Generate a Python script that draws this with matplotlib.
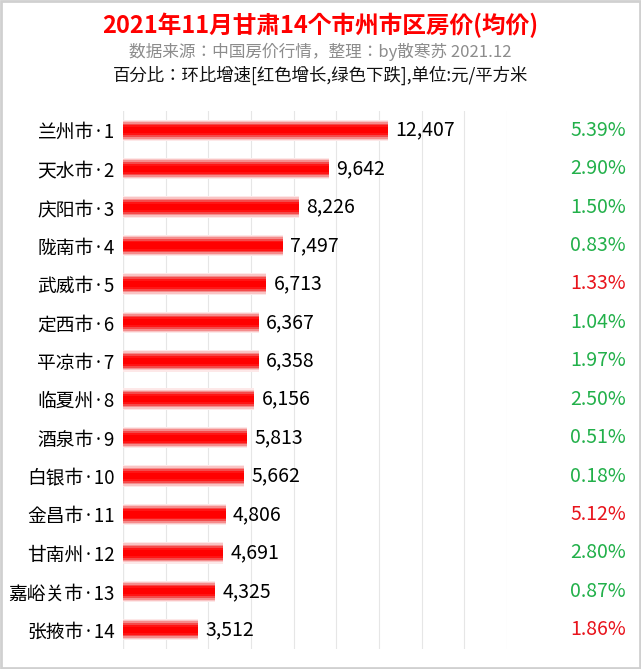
import matplotlib.pyplot as plt
import numpy as np

plt.rcParams['font.family'] = ['Noto Sans CJK SC', 'Noto Sans CJK JP', 'DejaVu Sans']

cities = ['兰州市', '天水市', '庆阳市', '陇南市', '武威市', '定西市', '平凉市',
          '临夏州', '酒泉市', '白银市', '金昌市', '甘南州', '嘉峪关市', '张掖市']
prices = [12407, 9642, 8226, 7497, 6713, 6367, 6358, 6156, 5813, 5662, 4806, 4691, 4325, 3512]
changes = ['5.39%', '2.90%', '1.50%', '0.83%', '1.33%', '1.04%', '1.97%',
           '2.50%', '0.51%', '0.18%', '5.12%', '2.80%', '0.87%', '1.86%']
up = [False, False, False, False, True, False, False, False, False, False, True, False, False, True]

fig = plt.figure(figsize=(6.41, 6.69), dpi=100)
fig.patches.append(plt.Rectangle((0.002, 0.002), 0.996, 0.996, transform=fig.transFigure,
                                 fill=False, edgecolor='#d0d0d0', linewidth=2))
ax = fig.add_axes([0.192, 0.030, 0.599, 0.804])

y = np.arange(len(cities))
# gradient bar: pale wide layers underneath, saturated red core
layers = [(0.56, '#fde8e8'), (0.50, '#f9c4c4'), (0.43, '#f58c8c'), (0.35, '#f44a4a'),
          (0.26, '#ff1414'), (0.16, '#ff0000')]
for h, c in layers:
    ax.barh(y, prices, height=h, color=c, linewidth=0, zorder=2)

for i, v in enumerate(prices):
    ax.text(v + 350, i, f'{v:,}', va='center', ha='left', fontsize=14)
    ax.text(1.165, i, changes[i], transform=ax.get_yaxis_transform(), va='center', ha='left',
            fontsize=14, color='#e8141c' if up[i] else '#22b04a')

ax.set_xlim(0, 18000)
ax.set_ylim(len(cities) - 0.5, -0.5)
ax.set_xticks(np.arange(0, 18001, 2000))
ax.grid(axis='x', color='#e6e6e6', linewidth=0.8, zorder=0)
ax.set_yticks(y)
ax.set_yticklabels([f'{c}·{i + 1}' for i, c in enumerate(cities)], fontsize=13.5)
ax.tick_params(axis='y', length=0, pad=6)
ax.tick_params(axis='x', length=0, labelbottom=False)
for s in ax.spines.values():
    s.set_visible(False)
ax.axvline(0, color='#d9d9d9', linewidth=0.8, zorder=1)

fig.text(0.5, 0.962, '2021年11月甘肃14个市州市区房价(均价)', ha='center', va='center',
         fontsize=17, color='#ff0000', fontweight='bold')
fig.text(0.5, 0.922, '数据来源：中国房价行情，整理：by散寒苏 2021.12', ha='center', va='center',
         fontsize=12, color='#8c8c8c')
fig.text(0.5, 0.888, '百分比：环比增速[红色增长,绿色下跌],单位:元/平方米', ha='center', va='center',
         fontsize=12.5, color='#111111')

fig.savefig('out.png', dpi=100)
